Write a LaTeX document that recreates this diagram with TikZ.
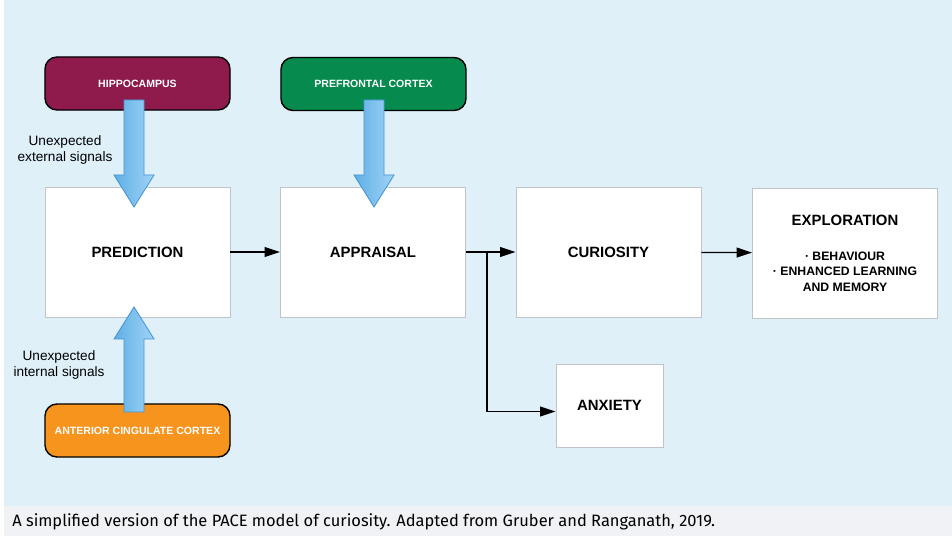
\documentclass[tikz,border=0pt]{standalone}
\usepackage{fontspec}
\setmainfont{Liberation Sans}
\newfontfamily\capfont{Fira Sans}
\usepackage{tikz}
\usetikzlibrary{arrows.meta,calc}

\definecolor{bgblue}{RGB}{223,240,249}
\definecolor{capgrey}{RGB}{240,242,245}
\definecolor{hipred}{RGB}{142,27,76}
\definecolor{pfcgreen}{RGB}{6,138,77}
\definecolor{accorange}{RGB}{247,148,30}
\definecolor{boxgrey}{RGB}{190,196,202}
\definecolor{arrowdark}{RGB}{95,175,230}
\definecolor{arrowlight}{RGB}{160,212,245}
\definecolor{arrowedge}{RGB}{70,148,212}

% fat arrow: tail, tip, direction (1 down, -1 up)
\newcommand{\fatarrow}[3]{%
  \draw[fatarrow] (#2) -- ++(-20,-32*#3) -- ++(10,0) -- ($(#1)+(-10,0)$)
    -- ($(#1)+(10,0)$) -- ($(#2)+(10,-32*#3)$) -- ++(10,0) -- cycle;}

\begin{document}
\begin{tikzpicture}[x=0.025cm,y=-0.025cm,
    region/.style={rounded corners=0.3cm, draw=black, line width=1pt,
      minimum width=4.625cm, minimum height=1.325cm, text=white,
      font=\fontsize{7.5}{9}\selectfont\bfseries},
    stage/.style={draw=boxgrey, fill=white, line width=0.6pt,
      minimum width=4.625cm, minimum height=3.25cm,
      font=\fontsize{10.6}{12}\selectfont\bfseries},
    conn/.style={line width=0.9pt, -{Triangle[length=11pt,width=7pt]}},
    fatarrow/.style={draw=arrowedge, line width=0.6pt, left color=arrowdark,
      right color=arrowlight},
    signal/.style={align=center, font=\fontsize{9.7}{11.3}\selectfont}]
    \useasboundingbox (0,0) rectangle (952,536);
    % --- BACKGROUND ---
    \fill[bgblue] (4,0) rectangle (952,506);
    \fill[capgrey] (4,506) rectangle (952,536);
    \node[anchor=west, inner sep=0pt] (caption) at (12,522)
      {\capfont\fontsize{11.7}{13}\selectfont A simplified version of the PACE model of curiosity. Adapted from Gruber and Ranganath, 2019.};

    % --- STAGES ---
    \node[stage] (pred) at (137.5,252) {PREDICTION};
    \node[stage] (appr) at (373,252) {APPRAISAL};
    \node[stage] (cur) at (608.5,252) {CURIOSITY};
    \node[stage, align=center, font=\fontsize{8.7}{11}\selectfont\bfseries] (expl) at (845,253)
      {{\fontsize{10.6}{12}\selectfont EXPLORATION}\\[14pt]
       · BEHAVIOUR\\ · ENHANCED LEARNING\\ AND MEMORY};
    \node[stage, minimum width=2.675cm, minimum height=2.075cm] (anx) at (609.5,405.5) {ANXIETY};

    % --- BRAIN REGIONS ---
    \node[region, fill=hipred] (hip) at (137.5,83.5) {HIPPOCAMPUS};
    \node[region, fill=pfcgreen] (pfc) at (373.5,84) {PREFRONTAL CORTEX};
    \node[region, fill=accorange] (acc) at (137.5,430.5) {ANTERIOR CINGULATE CORTEX};

    % --- FAT ARROWS ---
    \coordinate (hipout) at (134,100);
    \coordinate (pfcout) at (374,100);
    \coordinate (accout) at (134,412);
    \coordinate (predtop) at (134,207);
    \coordinate (apprtop) at (374,207);
    \coordinate (predbot) at (134,307);
    \fatarrow{hipout}{predtop}{1}
    \fatarrow{pfcout}{apprtop}{1}
    \fatarrow{accout}{predbot}{-1}
    \node[signal] (ext) at (65,150) {Unexpected\\external signals};
    \node[signal] (int) at (59,365) {Unexpected\\internal signals};

    % --- CONNECTORS ---
    \draw[conn] (pred) -- (appr);
    \draw[conn] (appr) -- (cur);
    \draw[conn] (cur) -- (expl);
    \coordinate (split) at (487,252);
    \draw[conn] (split) |- ([yshift=-0.15cm]anx.west);
\end{tikzpicture}
\end{document}
